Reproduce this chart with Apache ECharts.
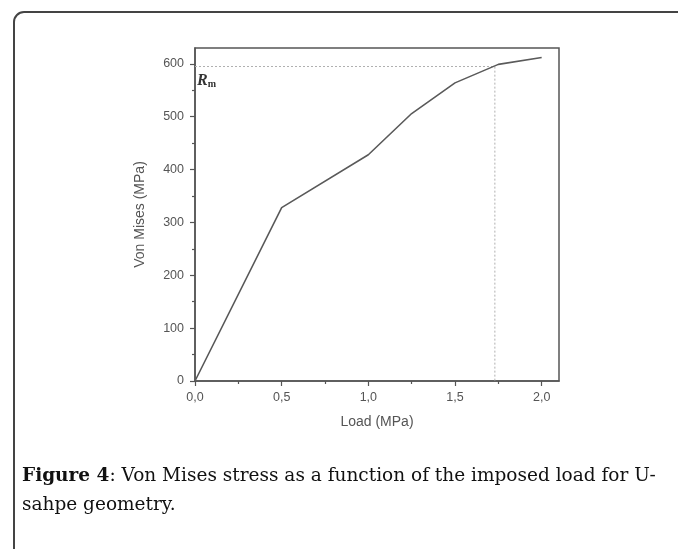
<!DOCTYPE html>
<html lang="en">
    <head>
        <title>Von Mises stress vs load</title>
        <meta charset="utf-8">
        <script src="https://cdn.jsdelivr.net/npm/echarts@6.0.0/dist/echarts.min.js"></script>
    </head>

    <style>
        html, body {
            margin: 0;
            background: #fff;
        }

        #main {
            width: 678px;
            height: 549px;
        }
    </style>

    <body>
        <div id="main"></div>

        <script>
            // values
            const loads = [0, 0.5, 1.0, 1.25, 1.5, 1.75, 2.0];
            const stresses = [0, 328, 428, 506, 564, 599, 612];

            // ultimate strength marker (dotted guide lines)
            const rmStress = 595;
            const rmLoad = 1.73;

            const xMajorTicks = [0, 0.5, 1.0, 1.5, 2.0];
            const xMinorTicks = [0.25, 0.75, 1.25, 1.75];
            const yMajorTicks = [0, 100, 200, 300, 400, 500, 600];
            const yMinorTicks = [50, 150, 250, 350, 450, 550];

            const axisColor = '#555';
            const textColor = '#555';

            const chart = echarts.init(document.getElementById('main'));

            const tickStyle = { color: axisColor, width: 1.2 };

            const option = {
                animation: false,
                backgroundColor: '#fff',
                grid: {
                    left: 195,
                    top: 48,
                    width: 364,
                    height: 333,
                    show: true,
                    borderColor: axisColor,
                    borderWidth: 1.5
                },
                xAxis: [ {
                    type: 'value',
                    min: 0,
                    max: 2.1,
                    interval: 0.5,
                    name: 'Load (MPa)',
                    nameLocation: 'middle',
                    nameGap: 34,
                    nameTextStyle: { color: textColor, fontSize: 14, fontFamily: 'Liberation Sans' },
                    axisLine: { show: true, onZero: false, lineStyle: { color: axisColor, width: 1.5 } },
                    axisTick: { show: true, length: 5, customValues: xMajorTicks, lineStyle: tickStyle },
                    axisLabel: {
                        customValues: xMajorTicks,
                        color: textColor,
                        fontSize: 12.5,
                        fontFamily: 'Liberation Sans',
                        margin: 10,
                        formatter: function (v) {
                            return v.toFixed(1).replace('.', ',');
                        }
                    },
                    splitLine: { show: false }
                }, {
                    type: 'value',
                    min: 0,
                    max: 2.1,
                    position: 'bottom',
                    axisLine: { show: false },
                    axisTick: { show: true, length: 3, customValues: xMinorTicks, lineStyle: tickStyle },
                    axisLabel: { show: false },
                    splitLine: { show: false }
                } ],
                yAxis: [ {
                    type: 'value',
                    min: 0,
                    max: 630,
                    interval: 100,
                    name: 'Von Mises (MPa)',
                    nameLocation: 'middle',
                    nameGap: 48,
                    nameTextStyle: { color: textColor, fontSize: 14, fontFamily: 'Liberation Sans' },
                    axisLine: { show: true, onZero: false, lineStyle: { color: axisColor, width: 1.5 } },
                    axisTick: { show: true, length: 5, customValues: yMajorTicks, lineStyle: tickStyle },
                    axisLabel: {
                        customValues: yMajorTicks,
                        color: textColor,
                        fontSize: 12.5,
                        fontFamily: 'Liberation Sans',
                        margin: 11
                    },
                    splitLine: { show: false }
                }, {
                    type: 'value',
                    min: 0,
                    max: 630,
                    position: 'left',
                    axisLine: { show: false },
                    axisTick: { show: true, length: 3, customValues: yMinorTicks, lineStyle: tickStyle },
                    axisLabel: { show: false },
                    splitLine: { show: false }
                } ],
                series: [ {
                    type: 'line',
                    data: loads.map((x, i) => [x, stresses[i]]),
                    symbol: 'none',
                    lineStyle: { color: '#5a5a5a', width: 1.6 },
                    z: 3
                }, {
                    type: 'line',
                    data: [[0, rmStress], [rmLoad, rmStress], [rmLoad, 0]],
                    symbol: 'none',
                    lineStyle: { color: '#b0b0b0', width: 1, type: [2, 2] },
                    z: 2,
                    markPoint: {
                        symbol: 'rect',
                        symbolSize: 0,
                        data: [ {
                            coord: [0, rmStress],
                            label: {
                                show: true,
                                position: [2, 5],
                                formatter: '{r|R}{m|m}',
                                rich: {
                                    r: { fontFamily: 'Liberation Serif', fontStyle: 'italic', fontWeight: 'bold', fontSize: 16, color: '#333' },
                                    m: { fontFamily: 'Liberation Serif', fontWeight: 'bold', fontSize: 10, color: '#333', padding: [8, 0, 0, 0] }
                                }
                            }
                        } ]
                    }
                } ],
                graphic: [ {
                    type: 'rect',
                    shape: { x: 14, y: 12, width: 720, height: 620, r: 10 },
                    style: { fill: 'none', stroke: '#444', lineWidth: 2 },
                    silent: true
                }, {
                    type: 'text',
                    left: 22,
                    top: 462,
                    style: {
                        text: '{b|Figure 4}: Von Mises stress as a function of the imposed load for U-\nsahpe geometry.',
                        font: '18.5px "DejaVu Serif"',
                        fill: '#111',
                        lineHeight: 29,
                        rich: {
                            b: { fontFamily: 'DejaVu Serif', fontWeight: 'bold', fontSize: 18.5, fill: '#111', lineHeight: 29 }
                        }
                    }
                } ]
            };

            chart.setOption(option);

            window.onresize = function () {
                chart.resize();
            }
        </script>
    </body>
</html>
